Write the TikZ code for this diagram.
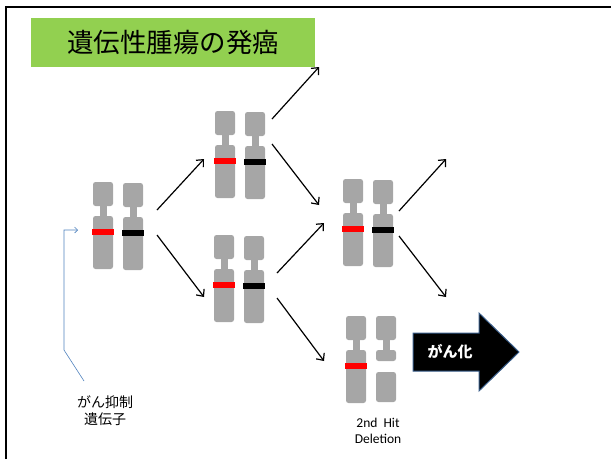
\documentclass[tikz,border=0pt]{standalone}
\usepackage{fontspec}
\setsansfont{Carlito}
\newfontfamily\jpfont{Noto Sans CJK JP}
\usetikzlibrary{arrows.meta}
\usepackage{xcolor}
\definecolor{titlegreen}{HTML}{92D050}
\definecolor{chromgray}{HTML}{A6A6A6}
\definecolor{calloutblue}{HTML}{4F81BD}
\definecolor{arrowedge}{HTML}{385D8A}

\begin{document}
\begin{tikzpicture}[
  x=1pt,y=-1pt,
  chromatid/.style={fill=chromgray,rounded corners=2.5pt},
  titlebox/.style={fill=titlegreen,minimum width=284pt,minimum height=49pt,inner sep=0pt,font=\jpfont\fontsize{26.5}{26.5}\selectfont},
  stepArrow/.style={-{Straight Barb[length=5.5pt,width=10pt]},line width=1.2pt,black},
  callout/.style={-{Straight Barb[length=3pt,width=6pt]},line width=0.6pt,calloutblue},
  geneLabel/.style={align=center,font=\jpfont\fontsize{14}{17}\selectfont},
  hitLabel/.style={align=center,font=\sffamily\fontsize{13.5}{16}\selectfont},
  bigArrow/.style={fill=black,draw=arrowedge,line width=1pt},
  bigLabel/.style={text=white,font=\jpfont\bfseries\fontsize{15}{15}\selectfont},
  pics/chromosome/.style={code={
    \fill[chromatid] (0,0) rectangle (20,24);
    \fill[chromgray] (6.5,22) rectangle (13.5,36);
    \fill[chromatid] (0,34) rectangle (20,87);
    \fill[#1] (-1,47) rectangle (21,53);
  }},
  pics/chrompair/.style={code={
    \pic at (0,0) {chromosome=red};
    \pic at (30,1) {chromosome=black};
  }},
  pics/deleted/.style={code={
    \fill[chromatid] (0,0) rectangle (20,24);
    \fill[chromgray] (6.5,22) rectangle (13.5,36);
    \fill[chromatid] (0,34) rectangle (20,45);
    \fill[chromatid] (0,56) rectangle (20,86);
  }}]

  \useasboundingbox (0,0) rectangle (611,459);
  \draw[line width=2pt] (6,459) -- (6,7) -- (611,7);

  % title
  \node[titlebox] (title) at (173,42.5) {遺伝性腫瘍の発癌};

  % chromosome pairs
  \pic (pA) at (93,182) {chrompair};
  \pic (pB) at (215,111) {chrompair};
  \pic (pC) at (214,235) {chrompair};
  \pic (pD) at (343,179) {chrompair};
  \pic (pE) at (346,316) {chromosome=red};
  \pic (pF) at (376,316) {deleted};

  % arrow ends
  \coordinate (aUp) at (157,210);   \coordinate (bTop) at (204,159);
  \coordinate (aDn) at (157,235);   \coordinate (cTop) at (204,297);
  \coordinate (bUp) at (272,119);   \coordinate (outA) at (319,67);
  \coordinate (bDn) at (272,144);   \coordinate (dTopA) at (319,205);
  \coordinate (cUp) at (277,273);   \coordinate (dTopB) at (324,223);
  \coordinate (cDn) at (277,298);   \coordinate (eTop) at (324,361);
  \coordinate (dUp) at (399,211);   \coordinate (outB) at (446,159);
  \coordinate (dDn) at (399,236);   \coordinate (outC) at (446,297);

  \draw[stepArrow] (aUp) -- (bTop);
  \draw[stepArrow] (aDn) -- (cTop);
  \draw[stepArrow] (bUp) -- (outA);
  \draw[stepArrow] (bDn) -- (dTopA);
  \draw[stepArrow] (cUp) -- (dTopB);
  \draw[stepArrow] (cDn) -- (eTop);
  \draw[stepArrow] (dUp) -- (outB);
  \draw[stepArrow] (dDn) -- (outC);

  % gene label and its pointer
  \node[geneLabel] (gene) at (105,411) {がん抑制\\遺伝子};
  \coordinate (geneTail) at (84,381);
  \coordinate (geneHead) at (78,230);
  \draw[callout] (geneTail) -- (64,350) -- (64,230) -- (geneHead);

  % second hit
  \node[hitLabel] (hit) at (378,431) {2nd\ \ Hit\\Deletion};

  % big arrow
  \coordinate (bigTail) at (413,352);
  \coordinate (bigTip) at (519,352);
  \draw[bigArrow] (413,333) -- (479,333) -- (479,313) -- (bigTip)
    -- (479,391) -- (479,371) -- (413,371) -- cycle;
  \node[bigLabel] (cancer) at (450,352) {がん化};

\end{tikzpicture}
\end{document}
